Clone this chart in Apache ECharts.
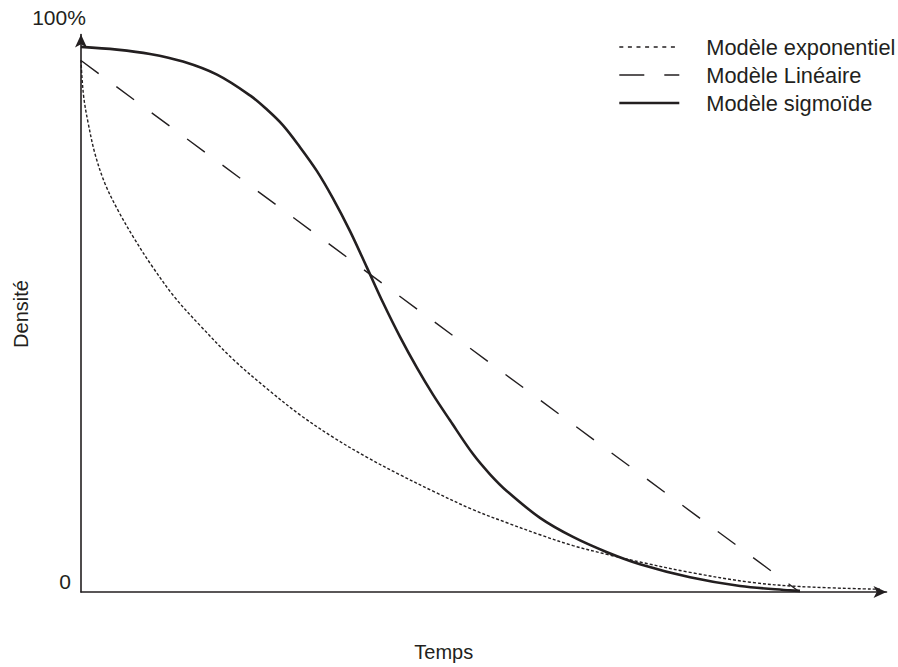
<!DOCTYPE html>
<html>
<head>
<meta charset="utf-8">
<script src="https://cdn.jsdelivr.net/npm/echarts@6/dist/echarts.min.js"></script>
<style>html,body{margin:0;padding:0;background:#fff}#c{width:898px;height:667px}</style>
</head>
<body>
<div id="c"></div>
<script>
// ---- data (x = time, y = density %) ----
const seriesNames = ['Modèle exponentiel', 'Modèle Linéaire', 'Modèle sigmoïde'];
const expX = [0, 0.12, 0.37, 0.86, 1.72, 2.96, 4.56, 6.53, 8.74, 11.58, 14.66, 18.72, 22.91, 26.97, 31.03, 35.22, 39.29, 43.35, 48.28, 52.46, 56.53, 60.59, 64.78, 68.84, 75.0, 82.39, 88.55, 98.4];
const expY = [97.6, 94.4, 90.4, 86.2, 80.4, 74.9, 70.0, 64.9, 59.8, 54.0, 48.9, 42.7, 37.3, 32.5, 28.4, 24.7, 21.5, 18.5, 15.1, 12.7, 10.5, 8.5, 6.9, 5.5, 3.6, 1.8, 1.0, 0.5];
const linX = [0, 88.5];
const linY = [97.5, 0];
const sigX = [0, 4.43, 8.5, 12.56, 16.75, 20.81, 22.9, 24.88, 26.97, 29.06, 31.03, 33.13, 35.22, 37.19, 39.29, 41.38, 43.35, 45.44, 48.28, 50.37, 52.46, 56.53, 60.59, 64.78, 68.84, 75.0, 81.16, 87.32, 88.55];
const sigY = [100, 99.5, 98.7, 97.3, 94.9, 91.1, 88.5, 85.6, 81.6, 77.2, 72.2, 66.2, 59.5, 53.1, 46.8, 41.1, 36.2, 31.5, 25.3, 21.6, 18.5, 13.6, 10.1, 7.3, 5.1, 2.7, 1.1, 0.3, 0.2];
const yTickLabels = ['0', '100%'];
const xTitle = 'Temps';
const yTitle = 'Densité';

const pairs = (xs, ys) => xs.map((x, i) => [x, ys[i]]);
const ink = '#231f20';
const font = '"Liberation Sans", Arial, sans-serif';

const chart = echarts.init(document.getElementById('c'), null, {renderer: 'svg'});
chart.setOption({
  animation: false,
  backgroundColor: '#fff',
  textStyle: {fontFamily: font, color: ink},
  grid: {left: 81, right: 11.5, top: 34.5, bottom: 70, containLabel: false},
  legend: {
    orient: 'vertical',
    left: 613,
    top: 31,
    itemWidth: 60,
    itemHeight: 14,
    itemGap: 6,
    itemStyle: {opacity: 0},
    textStyle: {fontFamily: font, fontSize: 21.8, color: ink, lineHeight: 21, padding: [0, 0, 0, 22]},
    data: [
      {name: seriesNames[0], lineStyle: {type: [4, 4.6], width: 1.5}},
      {name: seriesNames[1], lineStyle: {type: [25, 20], width: 1.5}},
      {name: seriesNames[2], lineStyle: {width: 2.6}}
    ]
  },
  xAxis: {
    type: 'value',
    min: 0,
    max: 99.2,
    name: xTitle,
    nameLocation: 'middle',
    nameGap: 50,
    nameTextStyle: {fontFamily: font, fontSize: 20, color: ink, padding: [0, 80, 0, 0]},
    axisLine: {show: true, lineStyle: {color: ink, width: 1.6}, symbol: ['none', 'arrow'], symbolSize: [9, 13]},
    axisTick: {show: false},
    axisLabel: {show: false},
    splitLine: {show: false}
  },
  yAxis: {
    type: 'value',
    min: 0,
    max: 102.27,
    name: yTickLabels[1],
    nameLocation: 'end',
    nameGap: 7,
    nameTextStyle: {fontFamily: font, fontSize: 21, color: ink, padding: [0, 44, 0, 0]},
    axisLine: {show: true, lineStyle: {color: ink, width: 1.6}, symbol: ['none', 'arrow'], symbolSize: [9, 13]},
    axisTick: {show: false},
    axisLabel: {
      show: true,
      customValues: [0],
      formatter: (v) => (v === 0 ? yTickLabels[0] : ''),
      fontFamily: font, fontSize: 21, color: ink,
      margin: 10,
      verticalAlign: 'bottom'
    },
    splitLine: {show: false}
  },
  graphic: [{
    type: 'text',
    rotation: Math.PI / 2,
    x: 21, y: 314,
    style: {text: yTitle, fontFamily: font, fontSize: 20, fill: ink, align: 'center', verticalAlign: 'middle'}
  }],
  series: [
    {
      name: seriesNames[0], type: 'line', data: pairs(expX, expY), smooth: 0.35, symbol: 'none',
      lineStyle: {color: ink, width: 1.4, type: [3, 2]}, itemStyle: {color: ink}, z: 2
    },
    {
      name: seriesNames[1], type: 'line', data: pairs(linX, linY), symbol: 'none',
      lineStyle: {color: ink, width: 1.4, type: [22, 22]}, itemStyle: {color: ink}, z: 3
    },
    {
      name: seriesNames[2], type: 'line', data: pairs(sigX, sigY), smooth: 0.35, symbol: 'none',
      lineStyle: {color: ink, width: 2.6}, itemStyle: {color: ink}, z: 4
    }
  ]
});
</script>
</body>
</html>
